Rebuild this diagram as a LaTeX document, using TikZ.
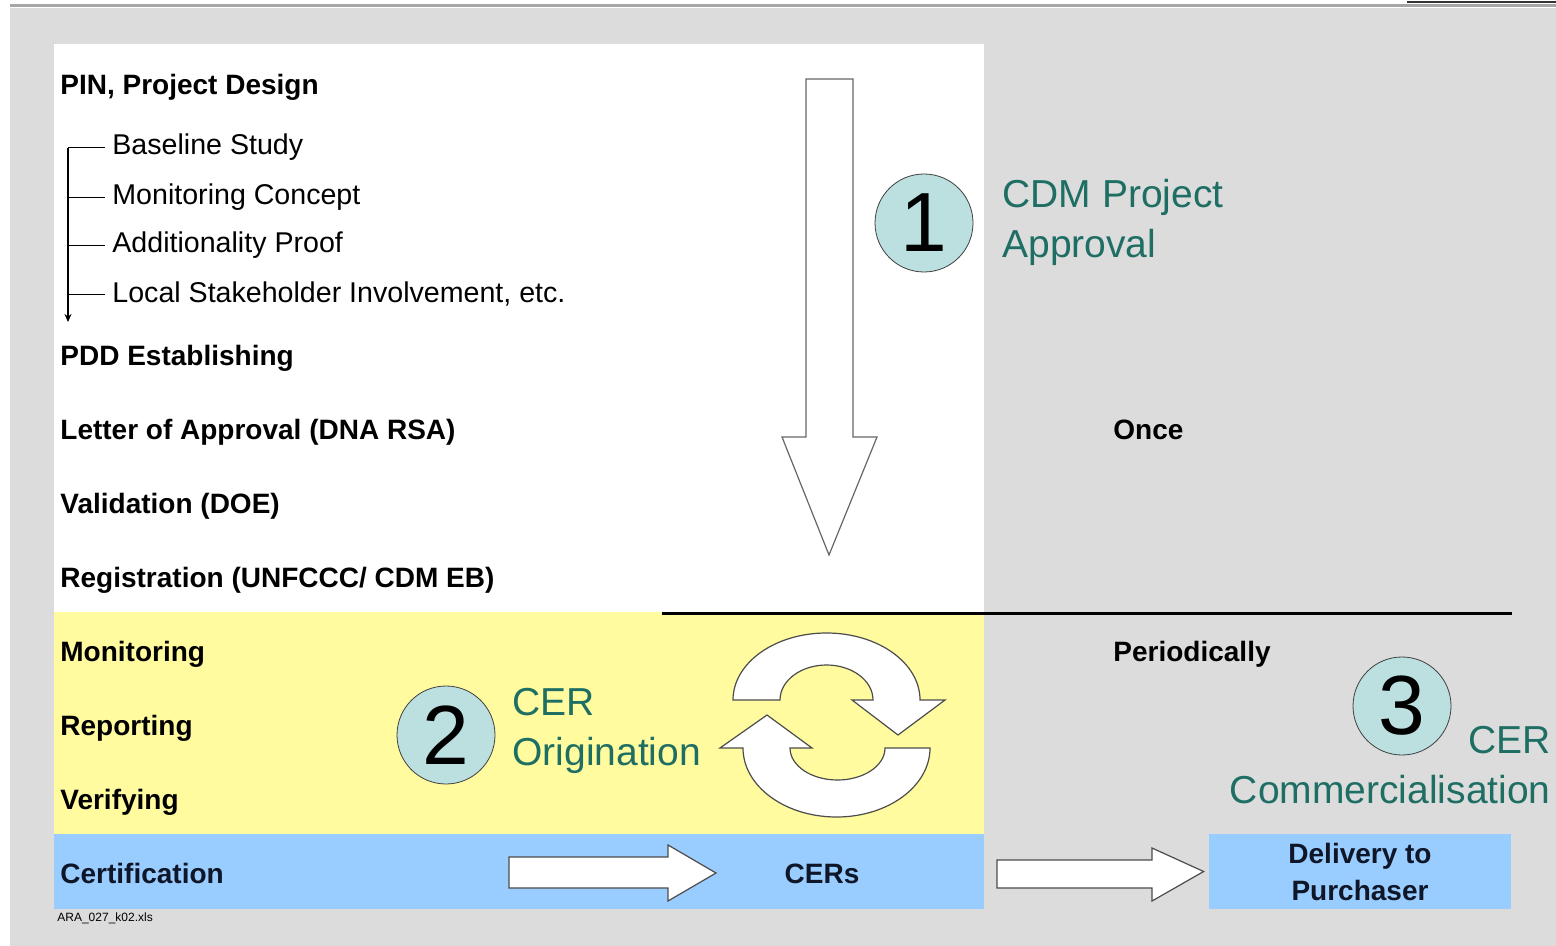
\documentclass[tikz,border=0pt]{standalone}
\usepackage{fontspec}
\setmainfont{Liberation Sans}
\usetikzlibrary{arrows.meta,positioning}
\definecolor{slideGray}{HTML}{DCDCDC}
\definecolor{panelYellow}{HTML}{FFFB9E}
\definecolor{panelBlue}{HTML}{99CCFF}
\definecolor{cdmTeal}{HTML}{1E6E64}
\definecolor{discTeal}{HTML}{BCE0E0}
\definecolor{navyTxt}{HTML}{0E1628}

\begin{document}
\begin{tikzpicture}[x=0.5pt,y=-0.5pt,>={Stealth[length=4pt,width=3.5pt]},
  stage/.style={anchor=base west,inner sep=0pt,font=\fontsize{14}{16}\selectfont\bfseries},
  sub/.style={anchor=base west,inner sep=0pt,font=\fontsize{14.3}{16}\selectfont},
  disc/.style={draw=black!75,circle,fill=discTeal,minimum size=49pt,inner sep=0pt,
    font=\fontsize{42}{42}\selectfont},
  phase/.style={cdmTeal,inner sep=0pt,font=\fontsize{19.5}{25}\selectfont},
  blk/.style={draw=black!70,fill=white,line width=0.6pt}]
\useasboundingbox (0,0) rectangle (1556,946);
% slide background and panels
\fill[white] (0,0) rectangle (1556,946);
\fill[slideGray] (10,8) rectangle (1556,946);
\draw[black!35,line width=1.5pt] (10,6) -- (1556,6);
\draw[black!80,line width=0.8pt] (1407,2) -- (1556,2);
\fill[white] (54,44) rectangle (984,612);
\fill[panelYellow] (54,612) rectangle (984,834);
\fill[panelBlue] (54,834) rectangle (984,909);
\draw[line width=1.5pt] (662,613) -- (1512,613);

% project steps
\foreach \n/\y/\t in {pin/95/{PIN, Project Design}, pdd/365/{PDD Establishing},
    loa/439/{Letter of Approval (DNA RSA)}, valid/513/{Validation (DOE)},
    reg/587/{Registration (UNFCCC/ CDM EB)}, mon/661/{Monitoring},
    rep/735/{Reporting}, ver/809/{Verifying}}
  \node[stage] (\n) at (60,\y) {\t};
\node[stage,text=navyTxt] (cert) at (60,883) {Certification};

% design sub-items
\foreach \n/\y/\t in {b1/155/{Baseline Study}, b2/205/{Monitoring Concept},
    b3/253/{Additionality Proof}, b4/303/{Local Stakeholder Involvement, etc.}}
  \node[sub] (\n) at (112,\y) {\t};
\coordinate (tEnd) at (68,322);
\draw[->,line width=0.6pt] (b1.west -| tEnd) -- (tEnd);
\foreach \n in {b1,b2,b3,b4}
  \draw[line width=0.6pt] (\n.west -| tEnd) -- ([xshift=-3.5pt]\n.west);

% frequency
\node[stage] (once) at (1113,439) {Once};
\node[stage] (period) at (1113,661) {Periodically};

% phases
\node[disc] (c1) at (924,223) {1};
\node[phase,anchor=west,align=left] (t1) at (1002,222) {CDM Project\\Approval};
\node[disc] (c2) at (446,735) {2};
\node[phase,anchor=west,align=left] (t2) at (512,731) {CER\\Origination};
\node[disc] (c3) at (1402,706) {3};
\node[phase,anchor=east,align=right] (t3) at (1551,765) {CER\\Commercialisation};

% approval arrow
\draw[blk,draw=black!60] (806,79) -- (853,79) -- (853,437) -- (877,437) -- (829,555)
  -- (782,437) -- (806,437) -- cycle;

% cycle arrows
\draw[blk] (733,700) arc[start angle=180,end angle=360,x radius=93.5,y radius=67]
  -- (945,700) -- (898,735) -- (852,700) -- (873,700)
  arc[start angle=360,end angle=180,x radius=46.5,y radius=35] -- cycle;
\draw[blk] (930,748) arc[start angle=0,end angle=180,x radius=93.5,y radius=69]
  -- (720,748) -- (767,715) -- (812,748) -- (790,748)
  arc[start angle=180,end angle=0,x radius=47.5,y radius=32] -- cycle;

% certification and delivery
\node[stage,anchor=base,text=navyTxt] (cers) at (822,883) {CERs};
\node[fill=panelBlue,minimum width=151pt,minimum height=37.5pt,inner sep=0pt,
  align=center,text=navyTxt,font=\fontsize{14}{18.5}\selectfont\bfseries] (deliv)
  at (1360,871.5) {Delivery to\\Purchaser};
\draw[blk] (509,857) -- (668,857) -- (668,845) -- (716,873) -- (668,901)
  -- (668,888) -- (509,888) -- cycle;
\draw[blk] (997,860) -- (1152,860) -- (1152,848) -- ([xshift=-2.5pt]deliv.west)
  -- (1152,901) -- (1152,888) -- (997,888) -- cycle;

\node[anchor=base west,inner sep=0pt,font=\fontsize{6}{7}\selectfont] (src)
  at (57,921) {ARA\_027\_k02.xls};
\end{tikzpicture}
\end{document}
